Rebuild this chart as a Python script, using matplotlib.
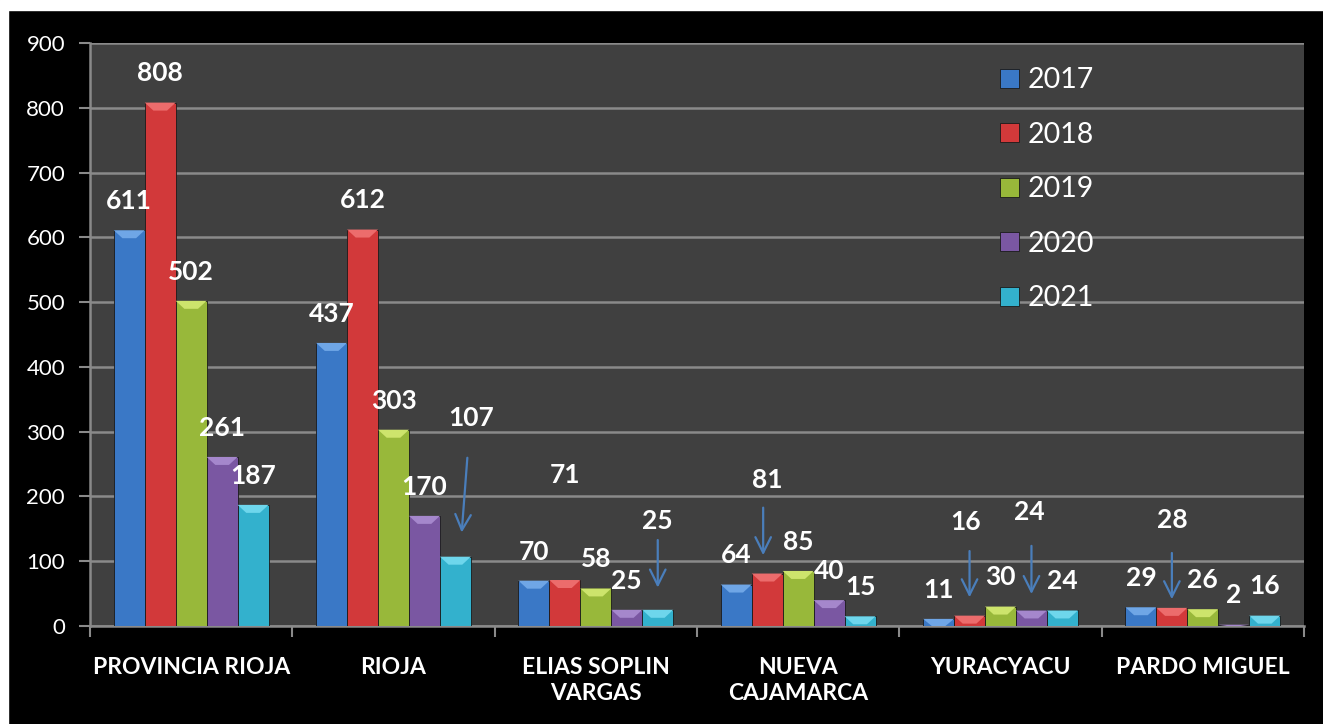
import numpy as np
import matplotlib
matplotlib.use("Agg")
import matplotlib.pyplot as plt
from matplotlib.patches import Polygon, Rectangle

## Data
categories = ["PROVINCIA RIOJA", "RIOJA", "ELIAS SOPLIN\nVARGAS", "NUEVA\nCAJAMARCA", "YURACYACU", "PARDO MIGUEL"]
years = ["2017", "2018", "2019", "2020", "2021"]
v2017 = [611, 437, 70, 64, 11, 29]
v2018 = [808, 612, 71, 81, 16, 28]
v2019 = [502, 303, 58, 85, 30, 26]
v2020 = [261, 170, 25, 40, 24, 2]
v2021 = [187, 107, 25, 15, 24, 16]
series = [v2017, v2018, v2019, v2020, v2021]

## Colours (face, top bevel)
colors = ["#3a78c6", "#d2393a", "#98b83a", "#7a57a2", "#33b1cd"]
tops = ["#6fa6e6", "#ec6c6c", "#cde46c", "#a587cc", "#6ed6ec"]

## Label placement: default is value + 45, these are moved (group, year) -> (dx, y)
label_moves = {
    (1, 4): (0.08, 321),
    (2, 1): (0.0, 233),
    (2, 4): (0.0, 162),
    (3, 1): (0.0, 225),
    (4, 1): (-0.02, 160),
    (4, 3): (-0.01, 176),
    (5, 1): (0.0, 163),
    (5, 3): (0.0, 48),
}
# arrows: (group, year) -> (tail y, head y, tail dx, head dx)
arrows = {
    (1, 4): (264, 140, 0.06, 0.03),
    (2, 4): (137, 55, 0.0, 0.0),
    (3, 1): (187, 105, -0.02, -0.02),
    (4, 1): (120, 40, 0.0, 0.0),
    (4, 3): (128, 45, 0.0, 0.0),
    (5, 1): (117, 37, 0.0, 0.0),
}

fig = plt.figure(figsize=(13.23, 7.24), dpi=100, facecolor="black")
# white strips at top and left edge
fig.patches.append(Rectangle((0, 1 - 10 / 724), 1, 10 / 724, transform=fig.transFigure, color="white", zorder=0))
fig.patches.append(Rectangle((0, 0), 8 / 1323, 1, transform=fig.transFigure, color="white", zorder=0))

ax = fig.add_axes([90 / 1323, 1 - 626 / 724, (1304 - 90) / 1323, (626 - 43) / 724])
ax.set_facecolor("#404040")

x = np.arange(len(categories))
w = 0.153
bevel_px = 8

ax.set_xlim(-0.5, len(categories) - 0.5)
ax.set_ylim(0, 900)
units_per_px = 900 / (626 - 43)

for j, vals in enumerate(series):
    pos = x + (j - 2) * w
    bars = ax.bar(pos, vals, width=w, color=colors[j], edgecolor="#1a1a1a", linewidth=0.6,
                  label=years[j], zorder=3)
    for b in bars:
        x0, y1, bw = b.get_x(), b.get_height(), b.get_width()
        h = min(bevel_px * units_per_px, y1)
        d = bw * 0.28
        ax.add_patch(Polygon([(x0, y1), (x0 + bw, y1), (x0 + bw - d, y1 - h), (x0 + d, y1 - h)],
                             closed=True, color=tops[j], zorder=4, lw=0))

    for i, v in enumerate(vals):
        dx, ly = label_moves.get((i, j), (0.0, v + 45))
        ax.text(pos[i] + dx, ly, str(v), ha="center", va="center", color="white",
                fontsize=19, fontweight="bold", family="Lato", zorder=6)
        if (i, j) in arrows:
            t, hd, tdx, hdx = arrows[(i, j)]
            ax.annotate("", xy=(pos[i] + hdx, hd), xytext=(pos[i] + tdx, t),
                        arrowprops=dict(arrowstyle="->", color="#4a7ebb", lw=1.6,
                                        mutation_scale=28), zorder=7)

## Axes styling
ax.set_yticks(np.arange(0, 901, 100))
ax.grid(axis="y", color="#8a8a8a", linewidth=1.8, zorder=1)
ax.set_axisbelow(True)
for s in ["top", "right"]:
    ax.spines[s].set_visible(False)
ax.spines["left"].set_color("#8a8a8a")
ax.spines["bottom"].set_color("#8a8a8a")
ax.spines["left"].set_linewidth(1.8)
ax.spines["bottom"].set_linewidth(1.8)

ax.set_xticks(np.arange(-0.5, len(categories), 1.0))
ax.set_xticklabels([])
ax.set_xticks(x, minor=True)
ax.set_xticklabels(categories, minor=True, color="white", fontsize=16.5, fontweight="bold",
                   family="Lato", linespacing=1.3)
ax.tick_params(axis="x", which="major", length=8, color="#8a8a8a", width=1.5, direction="out")
ax.tick_params(axis="x", which="minor", length=0, pad=22)
ax.tick_params(axis="y", length=8, color="#8a8a8a", width=1.5, labelcolor="white", labelsize=16, pad=10)
for t in ax.get_yticklabels():
    t.set_family("Lato")

leg = ax.legend(loc="upper left", bbox_to_anchor=((989 - 90) / (1304 - 90), 1 - (56 - 43) / (626 - 43)),
                frameon=False, fontsize=20.5, labelspacing=1.0, handlelength=0.65, handleheight=0.65,
                handletextpad=0.3, borderaxespad=0)
for txt in leg.get_texts():
    txt.set_color("white")
    txt.set_family("Lato")

fig.savefig("out.png", dpi=100, facecolor="black")
